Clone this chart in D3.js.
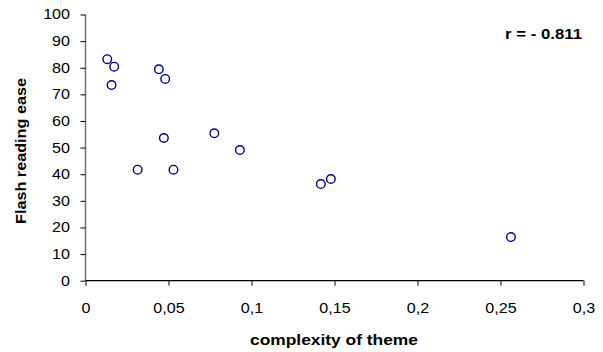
<!DOCTYPE html>
<html><head><meta charset="utf-8">
<script src="https://cdn.jsdelivr.net/npm/d3@7"></script>
<style>body{margin:0;background:#fff}text{font-family:Arial,"Liberation Sans",sans-serif}</style>
</head><body><svg id="c" width="603" height="352"></svg>
<script>
const complexity = [0.0131,0.0173,0.0157,0.0442,0.0480,0.0472,0.0314,0.0530,0.0776,0.0930,0.1418,0.1478,0.2563];
const readingEase = [83.2,80.4,73.5,79.4,75.8,53.6,41.7,41.7,55.4,49.1,36.3,38.2,16.4];
const xTicks = [0,0.05,0.1,0.15,0.2,0.25,0.3];
const yTicks = [0,10,20,30,40,50,60,70,80,90,100];
const xTitle = "complexity of theme";
const yTitle = "Flash reading ease";
const note = "r = - 0.811";

const svg = d3.select("#c");
const x = d3.scaleLinear().domain([0,0.3]).range([85.5,583.5]);
const y = d3.scaleLinear().domain([0,100]).range([280.7,14.5]);
const fmt = d => String(d).replace(".", ",");
const sx = 1.15;

const yAxis = svg.append("g").attr("transform","translate(85.5,0)")
  .call(d3.axisLeft(y).tickValues(yTicks).tickSize(5).tickPadding(4).tickFormat(d=>d));
const xAxis = svg.append("g").attr("transform","translate(0,280.7)")
  .call(d3.axisBottom(x).tickValues(xTicks).tickSize(5).tickPadding(14).tickFormat(fmt));
[yAxis,xAxis].forEach(g=>{
  g.select(".domain").attr("stroke","#000").attr("stroke-width",1.2);
  g.selectAll(".tick line").attr("stroke","#000");
  g.selectAll("text").attr("font-size",14).attr("fill","#000").attr("font-family","Arial, 'Liberation Sans', sans-serif");
});
yAxis.selectAll(".tick text").attr("x",-15.5/sx).attr("transform",`scale(${sx},1)`);
xAxis.selectAll(".tick text").attr("y",32.5).attr("dy",0).attr("x",0)
  .attr("transform",`scale(${sx},1)`);
yAxis.select(".domain").attr("d","M0,14.5V280.7").attr("stroke","#707070").attr("stroke-width",1.5);
xAxis.select(".domain").attr("d","M85.5,0H583.5");

svg.append("g").selectAll("circle").data(complexity).join("circle")
  .attr("cx",(d)=>x(d)).attr("cy",(d,i)=>y(readingEase[i])).attr("r",4.3)
  .attr("fill","#fff").attr("stroke","#000080").attr("stroke-width",1.4);

svg.append("text").attr("x",334).attr("y",345).attr("text-anchor","middle")
  .attr("font-size",15).attr("font-weight","bold")
  .attr("textLength",168).attr("lengthAdjust","spacingAndGlyphs").text(xTitle);
svg.append("text").attr("transform","translate(26,151) rotate(-90)").attr("text-anchor","middle")
  .attr("font-size",15).attr("font-weight","bold")
  .attr("textLength",146).attr("lengthAdjust","spacingAndGlyphs").text(yTitle);
svg.append("text").attr("x",582).attr("y",39).attr("text-anchor","end")
  .attr("font-size",14).attr("font-weight","bold")
  .attr("textLength",77).attr("lengthAdjust","spacingAndGlyphs").text(note);
</script></body></html>
